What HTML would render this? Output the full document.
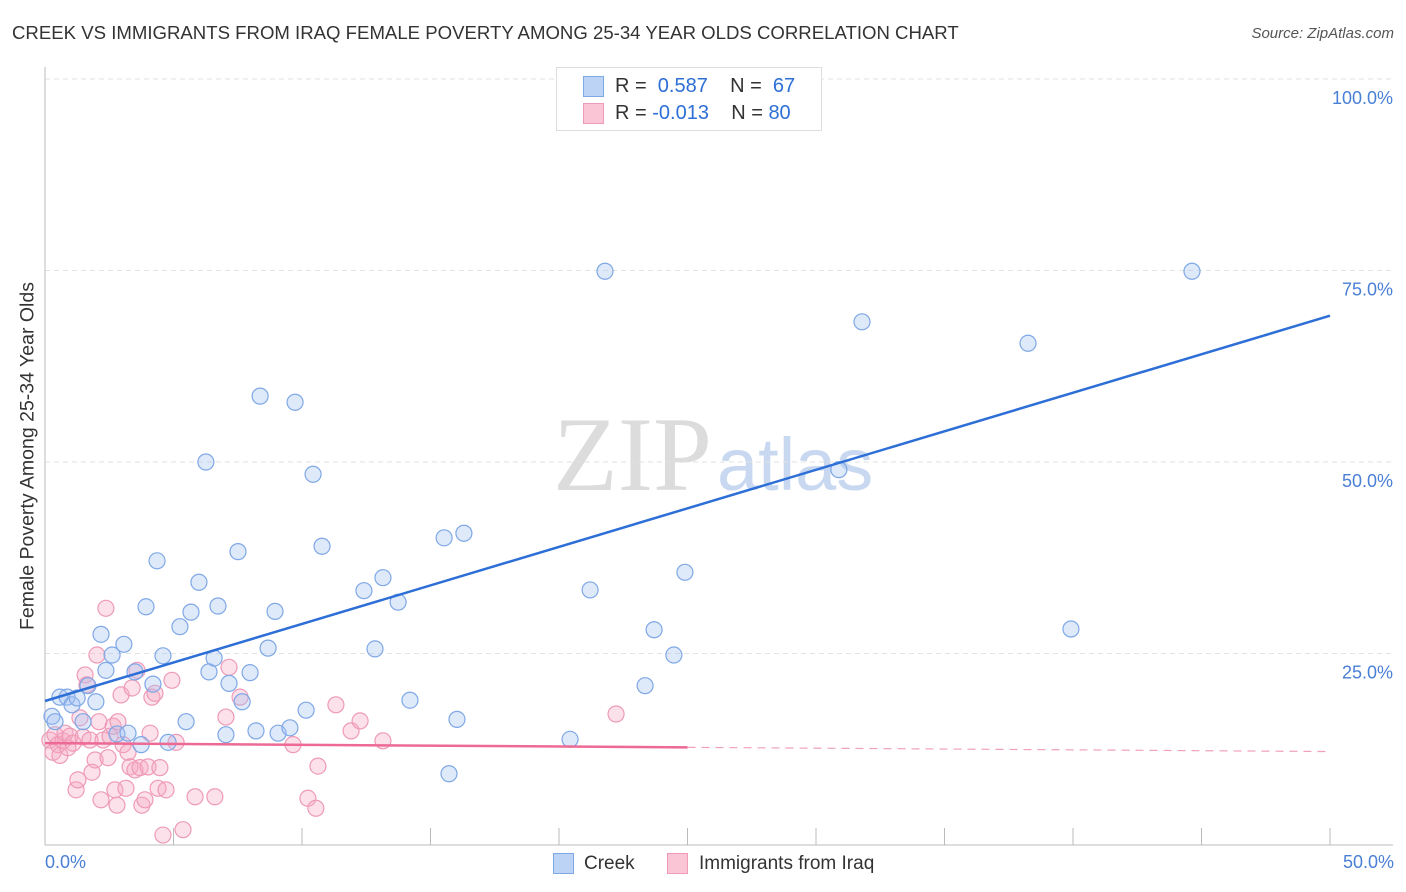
<!DOCTYPE html>
<html><head><meta charset="utf-8"><style>
body{margin:0;background:#fff;font-family:"Liberation Sans",sans-serif;}
#wrap{position:relative;width:1406px;height:892px;overflow:hidden;}
.t{position:absolute;white-space:nowrap;}
</style></head><body>
<div id="wrap">
<div class="t" style="left:12px;top:22px;font-size:18.6px;color:#333;">CREEK VS IMMIGRANTS FROM IRAQ FEMALE POVERTY AMONG 25-34 YEAR OLDS CORRELATION CHART</div>
<div class="t" style="right:12px;top:25px;font-size:15px;color:#555;font-style:italic;">Source: ZipAtlas.com</div>
<svg id="svg" width="1406" height="892" style="position:absolute;left:0;top:0"></svg>
</div>
<script>
const yTicks=[25,50,75,100];
const yTickLabels=["25.0%","50.0%","75.0%","100.0%"];
const creekX=[0.27,0.39,0.58,0.86,1.05,1.25,1.48,1.67,1.98,2.18,2.37,2.61,2.80,3.07,3.23,3.50,3.74,3.93,4.20,4.36,4.59,4.79,5.25,5.49,5.68,5.99,6.26,6.38,6.58,6.73,7.04,7.16,7.51,7.67,7.98,8.21,8.37,8.68,8.95,9.07,9.53,9.73,10.16,10.43,10.78,12.41,12.84,13.15,13.74,14.20,15.53,15.72,16.03,16.30,20.43,21.21,21.79,23.35,23.70,24.47,24.90,30.89,31.79,38.25,39.92,44.63,28.8];
const creekY=[16.8,16.1,19.3,19.3,18.3,19.2,16.1,20.8,18.7,27.5,22.8,24.8,14.5,26.2,14.6,22.6,13.1,31.1,21.0,37.1,24.7,13.4,28.5,16.1,30.4,34.3,50.0,22.6,24.4,31.2,14.4,21.1,38.3,18.7,22.5,14.9,58.6,25.7,30.5,14.6,15.3,57.8,17.6,48.4,39.0,33.2,25.6,34.9,31.7,18.9,40.1,9.3,16.4,40.7,13.8,33.3,74.9,20.8,28.1,24.8,35.6,49.0,68.3,65.5,28.2,74.9,99.3];
const iraqX=[0.19,0.31,0.39,0.51,0.58,0.70,0.78,0.89,0.97,1.09,1.21,1.28,1.36,1.48,1.56,1.63,1.75,1.83,1.95,2.02,2.10,2.18,2.26,2.37,2.45,2.53,2.65,2.72,2.80,2.84,2.96,3.04,3.15,3.23,3.31,3.39,3.50,3.58,3.70,3.77,3.89,4.01,4.09,4.16,4.28,4.40,4.47,4.59,4.71,4.94,5.10,5.37,5.84,6.61,7.04,7.16,7.59,9.65,10.23,10.54,10.62,11.32,11.91,12.26,13.15,22.22];
const iraqY=[13.7,12.1,14.4,13.1,11.7,13.6,14.6,12.7,14.2,13.3,7.2,8.5,16.6,14.1,22.2,20.9,13.7,9.5,11.1,24.8,16.1,5.9,13.7,30.9,11.4,14.2,15.5,7.2,5.2,16.1,19.6,13.1,7.4,12.1,10.2,20.5,9.8,22.8,10.1,5.2,5.9,10.2,14.6,19.3,19.8,7.4,10.1,1.3,7.2,21.5,13.4,2.0,6.3,6.3,16.7,23.2,19.3,13.1,6.1,4.8,10.3,18.3,14.9,16.2,13.6,17.1];
const creekTrend=[18.8,69.1];
const iraqTrend=[13.3,12.2];
const X0=45,X1=1330,Y0=845,Y100=79;
const sx=v=>X0+(v/50)*(X1-X0);
const sy=v=>Y0-(v/100)*(Y0-Y100);
const svg=document.getElementById('svg');
const NS='http://www.w3.org/2000/svg';
function mk(tag,at){const e=document.createElementNS(NS,tag);for(const k in at)e.setAttribute(k,at[k]);svg.appendChild(e);return e;}
let w=mk('text',{x:553,y:490,'font-size':106,'font-family':'Liberation Serif, serif',fill:'#dcdcdc'});w.textContent='ZIP';


w=mk('text',{x:717,y:490,'font-size':74,'font-family':'Liberation Sans, sans-serif',fill:'#c8d8f0'});w.textContent='atlas';


mk('line',{x1:X0,x2:1393,y1:Y100,y2:Y100,stroke:'#ddd','stroke-dasharray':'5,4'});
yTicks.forEach((t,i)=>{
 const g=mk('line',{x1:X0,x2:1393,y1:sy(t),y2:sy(t),stroke:'#e2e2e2','stroke-dasharray':'5,4'});
 
 
 const l=mk('text',{x:1393,y:sy(t)+25,'text-anchor':'end','font-size':18,fill:'#4a7fd6'});l.textContent=yTickLabels[i];
 
 
});
mk('line',{x1:X0,x2:X0,y1:67,y2:Y0,stroke:'#bbb'});
mk('line',{x1:X0,x2:1393,y1:Y0,y2:Y0,stroke:'#bbb'});
for(let v=5;v<=50;v+=5){const t=mk('line',{x1:sx(v),x2:sx(v),y1:828,y2:Y0,stroke:'#bbb'});
 
 }
function pts(xs,ys,fill,stroke,name){xs.forEach((x,i)=>{const c=mk('circle',{cx:sx(x),cy:sy(ys[i]),r:8,fill:fill,stroke:stroke,'stroke-width':1.2});
 
 });}
pts(iraqX,iraqY,'rgba(246,170,196,0.35)','#ee9ab8','iraq-point');
pts(creekX,creekY,'rgba(160,192,240,0.35)','#7fa8e6','creek-point');
let tl=mk('line',{x1:sx(0),y1:sy(creekTrend[0]),x2:sx(50),y2:sy(creekTrend[1]),stroke:'#2d6fd6','stroke-width':2.5});


const im=v=>iraqTrend[0]+(iraqTrend[1]-iraqTrend[0])*v/50;
tl=mk('line',{x1:sx(0),y1:sy(im(0)),x2:sx(25),y2:sy(im(25)),stroke:'#ec6a94','stroke-width':2.5});


tl=mk('line',{x1:sx(25),y1:sy(im(25)),x2:sx(50),y2:sy(im(50)),stroke:'#f0a0bc','stroke-width':1.2,'stroke-dasharray':'8,6'});


</script>
<div class="t" style="left:556px;top:67px;width:264px;height:62px;border:1px solid #ddd;background:rgba(255,255,255,0.9);">
 <div class="t" style="left:26px;top:8px;width:19px;height:19px;background:#bcd3f5;border:1px solid #7fa8e6;"></div>
 <div class="t" style="left:58px;top:7px;font-size:20px;color:#333;">R = &nbsp;<span style="color:#2d6fd6">0.587</span>&nbsp;&nbsp;&nbsp; N = &nbsp;<span style="color:#2d6fd6">67</span></div>
 <div class="t" style="left:26px;top:35px;width:19px;height:19px;background:#fac6d6;border:1px solid #ee9ab8;"></div>
 <div class="t" style="left:58px;top:34px;font-size:20px;color:#333;">R = <span style="color:#2d6fd6">-0.013</span>&nbsp;&nbsp;&nbsp; N = <span style="color:#2d6fd6">80</span></div>
</div>
<div class="t" style="left:45px;top:852px;font-size:18px;color:#4a7fd6;">0.0%</div>
<div class="t" style="right:12px;top:852px;font-size:18px;color:#4a7fd6;">50.0%</div>
<div class="t" style="left:553px;top:853px;width:19px;height:19px;background:#bcd3f5;border:1px solid #7fa8e6;"></div>
<div class="t" style="left:584px;top:853px;font-size:19px;color:#333;">Creek</div>
<div class="t" style="left:667px;top:853px;width:19px;height:19px;background:#fac6d6;border:1px solid #ee9ab8;"></div>
<div class="t" style="left:699px;top:853px;font-size:19px;color:#333;">Immigrants from Iraq</div>
<div class="t" style="left:28px;top:456px;font-size:19.5px;color:#333;transform:translate(-50%,-50%) rotate(-90deg);">Female Poverty Among 25-34 Year Olds</div>
</body></html>
